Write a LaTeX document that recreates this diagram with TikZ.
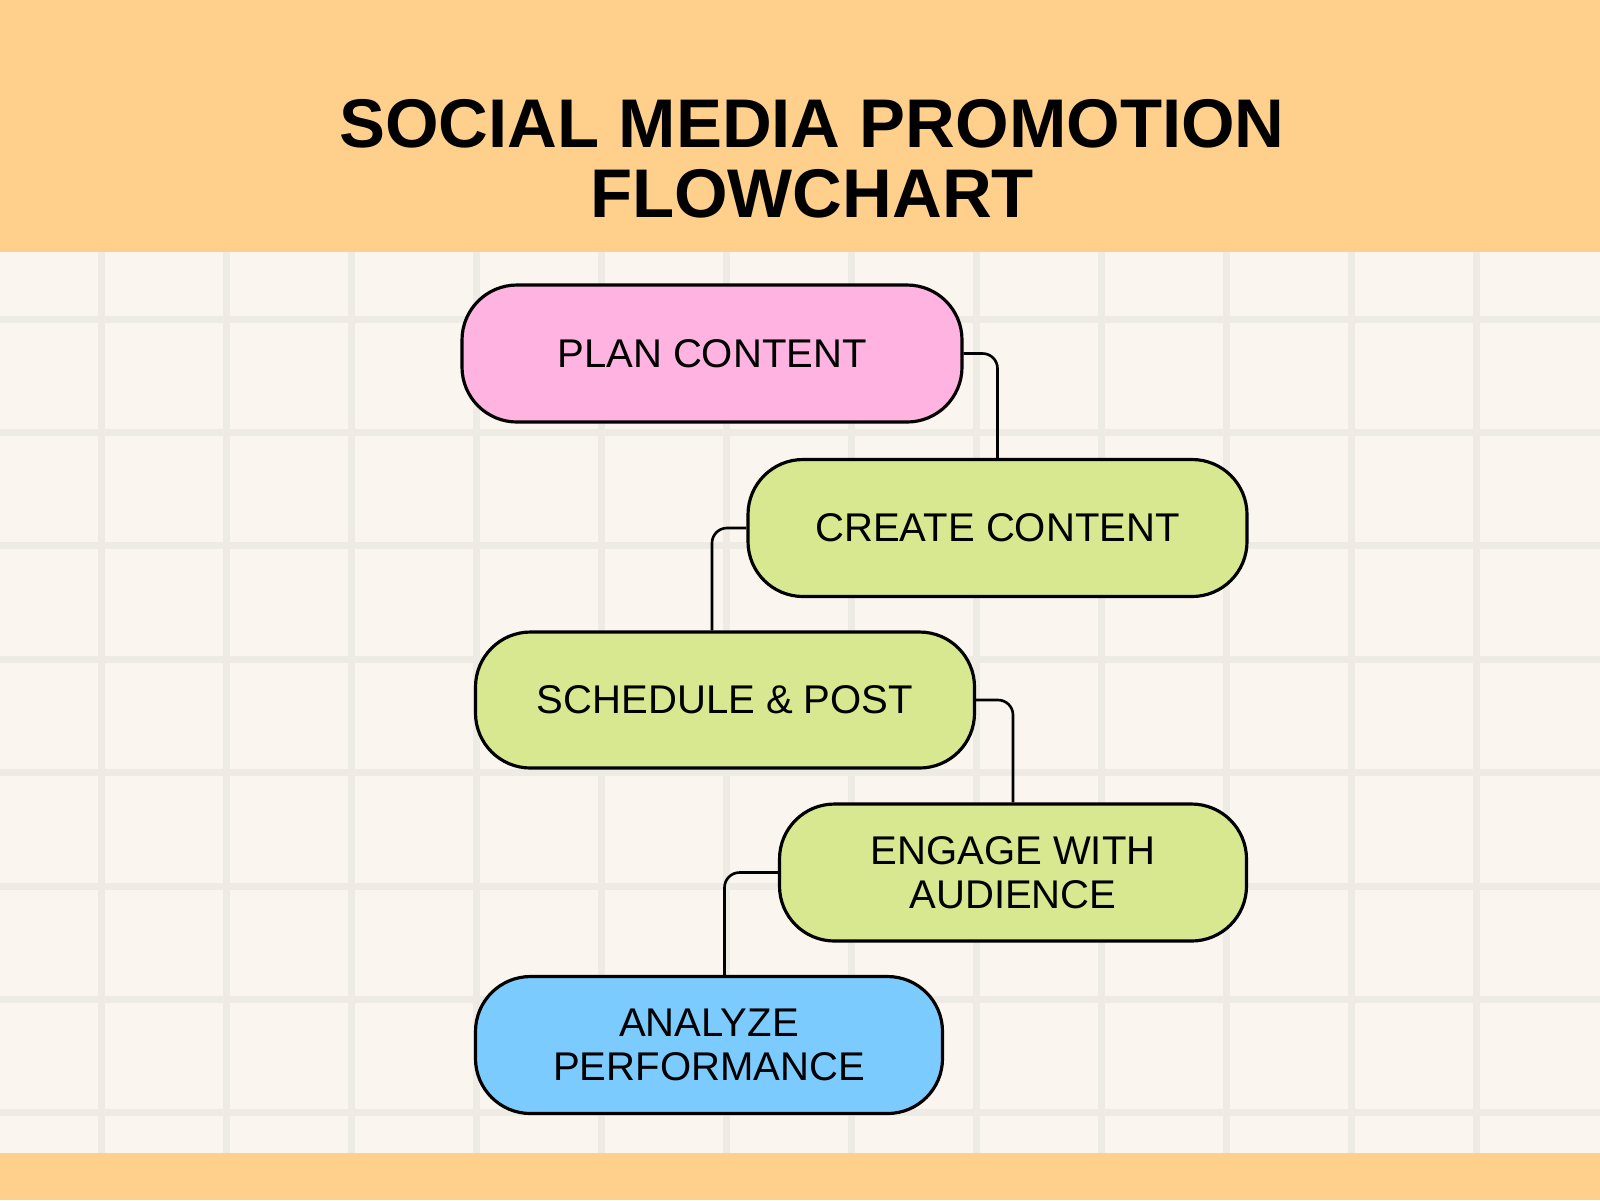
\documentclass[tikz,border=0pt]{standalone}
\usepackage{fontspec}
\setmainfont{Liberation Sans}
\usepackage{xcolor}
\usetikzlibrary{positioning,calc}
\definecolor{bandorange}{HTML}{FFD08C}
\definecolor{paper}{HTML}{FAF6EF}
\definecolor{gridgray}{HTML}{EEEBE4}
\definecolor{planpink}{HTML}{FFB3E1}
\definecolor{stepgreen}{HTML}{D8E891}
\definecolor{analyzeblue}{HTML}{7CCBFF}
\tikzset{
  stepbox/.style={draw=black,line width=0.9pt,rounded corners=5.5mm,minimum width=5cm,minimum height=1.37cm,inner sep=0pt,align=center,font=\fontsize{11.4}{12.4}\selectfont},
  link/.style={draw=black,line width=0.75pt,rounded corners=1.5mm},
  gridline/.style={draw=gridgray,line width=0.7mm}
}

\begin{document}
\begin{tikzpicture}
            \useasboundingbox (0,0) rectangle (16,-12);
            \fill[paper] (0,0) rectangle (16,-12);
            \foreach \i in {0,...,11} \draw[gridline] ({1.01+1.25*\i},-2.52) -- ({1.01+1.25*\i},-11.53);
            \foreach \j in {0,...,7} \draw[gridline] (0,{-3.19-1.134*\j}) -- (16,{-3.19-1.134*\j});
            \fill[bandorange] (0,0) rectangle (16,-2.52);
            \fill[bandorange] (0,-11.53) rectangle (16,-12);
            \node[align=center,font=\bfseries\fontsize{19.6}{20}\selectfont] (title) at (8.12,-1.59) {SOCIAL MEDIA PROMOTION\\FLOWCHART};

            \node[stepbox,fill=planpink] (plan) at (7.12,-3.535) {PLAN CONTENT};
            \node[stepbox,fill=stepgreen,minimum width=4.99cm] (create) at (9.975,-5.28) {CREATE CONTENT};
            \node[stepbox,fill=stepgreen,minimum width=4.99cm,minimum height=1.36cm] (sched) at (7.25,-7.0) {SCHEDULE \& POST};
            \node[stepbox,fill=stepgreen,minimum width=4.67cm] (engage) at (10.13,-8.725) {ENGAGE WITH\\AUDIENCE};
            \node[stepbox,fill=analyzeblue,minimum width=4.67cm] (analyze) at (7.09,-10.45) {ANALYZE\\PERFORMANCE};

            \draw[link] (plan.east) -| (create.north);
            \draw[link] (create.west) -| ([xshift=-1.3mm]sched.north);
            \draw[link] (sched.east) -| (engage.north);
            \draw[link] (engage.west) -| ([xshift=1.55mm]analyze.north);
        \end{tikzpicture}
\end{document}
